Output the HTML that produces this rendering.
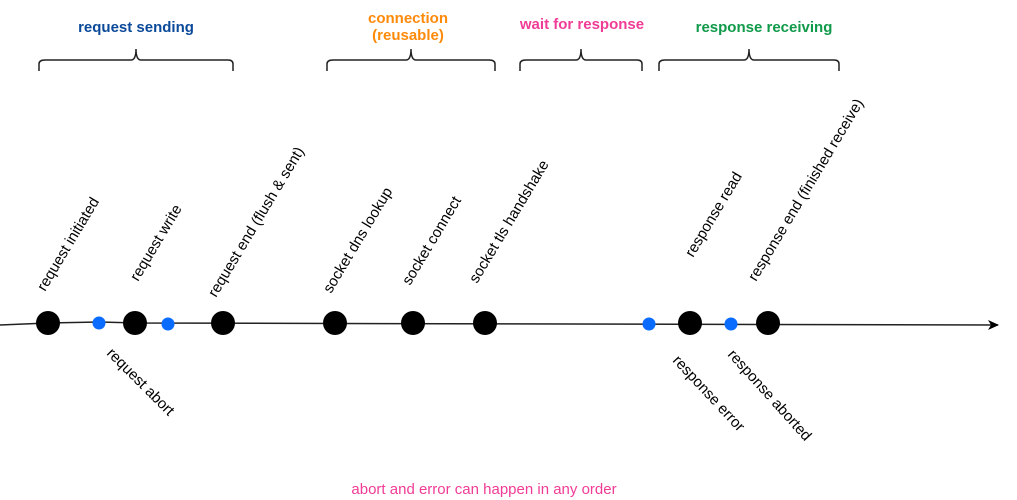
<!DOCTYPE html>
<html><head><meta charset="utf-8"><style>
html,body{margin:0;padding:0;background:#fff;}
svg{display:block;font-family:"Liberation Sans",sans-serif;}
</style></head><body>
<svg width="1017" height="500" viewBox="0 0 1017 500" xmlns="http://www.w3.org/2000/svg">
<defs>
<marker id="ah" markerWidth="12" markerHeight="10" refX="10" refY="5" orient="auto" markerUnits="userSpaceOnUse">
<path d="M0,0 L11,5 L0,10 L3,5 Z" fill="#000"/>
</marker>
</defs>
<g font-weight="bold" font-size="15" text-anchor="middle">
<text x="136" y="32" fill="#0b4a9a">request sending</text>
<text x="408" y="23" fill="#ff8a0a">connection</text>
<text x="408" y="40" fill="#ff8a0a">(reusable)</text>
<text x="582" y="29" fill="#f03c96">wait for response</text>
<text x="764" y="32" fill="#109a4a">response receiving</text>
</g>
<g fill="none" stroke="#222" stroke-width="1.5">
<path d="M39,71 L39,64 Q39,60 45,60 L131,60 Q136,60 136,49 Q136,60 141,60 L228,60 Q233,60 233,64 L233,71"/>
<path d="M327,71 L327,64 Q327,60 333,60 L406,60 Q411,60 411,49 Q411,60 416,60 L489,60 Q495,60 495,64 L495,71"/>
<path d="M520,71 L520,64 Q520,60 526,60 L576,60 Q581,60 581,49 Q581,60 586,60 L637,60 Q642,60 642,64 L642,71"/>
<path d="M659,71 L659,64 Q659,60 665,60 L744,60 Q749,60 749,49 Q749,60 754,60 L834,60 Q839,60 839,64 L839,71"/>
</g>
<path d="M0,325 L48,323 L99,322 L135,323 L998,325" fill="none" stroke="#222" stroke-width="1.5" marker-end="url(#ah)"/>
<g fill="#000">
<circle cx="48" cy="323" r="12"/><circle cx="135" cy="323" r="12"/><circle cx="223" cy="323" r="12"/>
<circle cx="335" cy="323" r="12"/><circle cx="413" cy="323" r="12"/><circle cx="485" cy="323" r="12"/>
<circle cx="690" cy="323" r="12"/><circle cx="768" cy="323" r="12"/>
</g>
<g fill="#0a6cff">
<circle cx="99" cy="323" r="6.5"/><circle cx="168" cy="324" r="6.5"/>
<circle cx="649" cy="324" r="6.5"/><circle cx="731" cy="324" r="6.5"/>
</g>
<g font-size="15" fill="#000">
<text transform="translate(45,292) rotate(-59)">request initiated</text>
<text transform="translate(138,282) rotate(-59)">request write</text>
<text transform="translate(216,298) rotate(-59)">request end (flush &amp; sent)</text>
<text transform="translate(331,294) rotate(-59)">socket dns lookup</text>
<text transform="translate(410,286) rotate(-59)">socket connect</text>
<text transform="translate(477,284) rotate(-59)">socket tls handshake</text>
<text transform="translate(693,258) rotate(-59)">response read</text>
<text transform="translate(756,282) rotate(-59)">response end (finished receive)</text>
<text transform="translate(106,354) rotate(45)">request abort</text>
<text transform="translate(672,361) rotate(47)">response error</text>
<text transform="translate(727,355) rotate(48)">response aborted</text>
</g>
<text x="484" y="494" font-size="15" fill="#f03c96" text-anchor="middle">abort and error can happen in any order</text>
</svg>
</body></html>
